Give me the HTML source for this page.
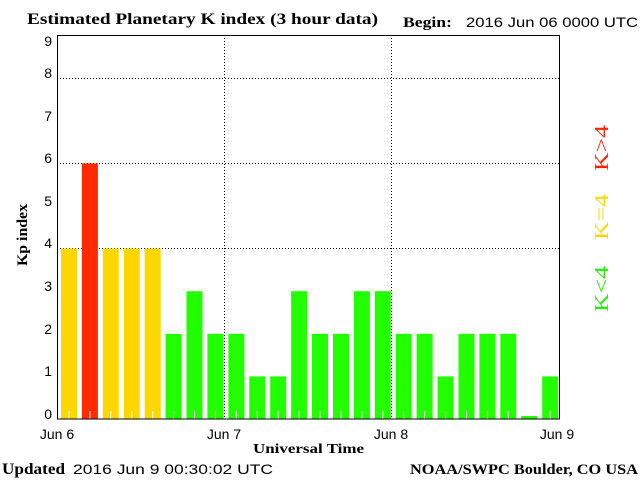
<!DOCTYPE html>
<html><head><style>body{margin:0;background:#fff}</style></head><body>
<svg width="640" height="480" xmlns="http://www.w3.org/2000/svg" font-family="Liberation Sans, sans-serif">
<rect width="640" height="480" fill="#fff"/>
<text x="27" y="24" font-family="Liberation Serif, serif" font-weight="bold" font-size="16" textLength="351" lengthAdjust="spacingAndGlyphs">Estimated Planetary K index (3 hour data)</text>
<text x="403" y="27" font-family="Liberation Serif, serif" font-weight="bold" font-size="15" textLength="49" lengthAdjust="spacingAndGlyphs">Begin:</text>
<text x="466" y="27" font-size="14" textLength="172" lengthAdjust="spacingAndGlyphs">2016 Jun 06 0000 UTC</text>
<g stroke="#000" stroke-dasharray="1,2" stroke-width="1">
<line x1="57" y1="78.5" x2="559" y2="78.5"/><line x1="57" y1="163.5" x2="559" y2="163.5"/><line x1="57" y1="248.5" x2="559" y2="248.5"/>
<line x1="224.5" y1="35" x2="224.5" y2="419"/><line x1="391.5" y1="35" x2="391.5" y2="419"/>
</g>
<g id="bars"></g>
<rect x="57.5" y="35.5" width="502" height="383.5" fill="none" stroke="#000"/>
<g font-size="14" text-anchor="end">
<text x="52" y="419">0</text><text x="52" y="376">1</text><text x="52" y="334">2</text><text x="52" y="291">3</text><text x="52" y="248">4</text><text x="52" y="206">5</text><text x="52" y="163">6</text><text x="52" y="121">7</text><text x="52" y="78">8</text><text x="52" y="46">9</text>
</g>
<g font-size="14" text-anchor="middle">
<text x="57" y="439">Jun 6</text><text x="224" y="439">Jun 7</text><text x="391" y="439">Jun 8</text><text x="557" y="439">Jun 9</text>
</g>
<text x="253" y="453" font-family="Liberation Serif, serif" font-weight="bold" font-size="14" textLength="111" lengthAdjust="spacingAndGlyphs">Universal Time</text>
<text transform="translate(27,266) rotate(-90)" font-family="Liberation Serif, serif" font-weight="bold" font-size="15" textLength="62" lengthAdjust="spacingAndGlyphs">Kp index</text>
<text x="2" y="474" font-family="Liberation Serif, serif" font-weight="bold" font-size="16" textLength="63" lengthAdjust="spacingAndGlyphs">Updated</text>
<text x="73" y="474" font-size="14" textLength="200" lengthAdjust="spacingAndGlyphs">2016 Jun  9 00:30:02 UTC</text>
<text x="410" y="474" font-family="Liberation Serif, serif" font-weight="bold" font-size="15" textLength="228" lengthAdjust="spacingAndGlyphs">NOAA/SWPC Boulder, CO USA</text>
<g font-size="20" font-family="Liberation Serif, serif">
<text transform="translate(608,312) rotate(-90)" fill="#22ee00" textLength="46" lengthAdjust="spacingAndGlyphs">K&lt;4</text>
<text transform="translate(608,240) rotate(-90)" fill="#ffd700" textLength="46" lengthAdjust="spacingAndGlyphs">K=4</text>
<text transform="translate(608,171) rotate(-90)" fill="#ff2200" textLength="46" lengthAdjust="spacingAndGlyphs">K&gt;4</text>
</g>
</svg>
<script>
var v=[4,6,4,4,4,2,3,2,2,1,1,3,2,2,3,3,2,2,1,2,2,2,0.07,1],g=document.getElementById('bars'),s='';
for(var i=0;i<24;i++){var x=61+i*20.92,h=v[i]*42.6,c=v[i]>4?'#ff2a00':v[i]==4?'#ffd700':'#22ff00';
s+='<rect x="'+x.toFixed(1)+'" y="'+(419-h).toFixed(1)+'" width="16" height="'+h.toFixed(1)+'" fill="'+c+'"/>';
if(v[i]>=1)s+='<line x1="'+(x+8).toFixed(1)+'" y1="411" x2="'+(x+8).toFixed(1)+'" y2="419" stroke="#fff"/>';}
g.innerHTML=s;
</script>
</body></html>
